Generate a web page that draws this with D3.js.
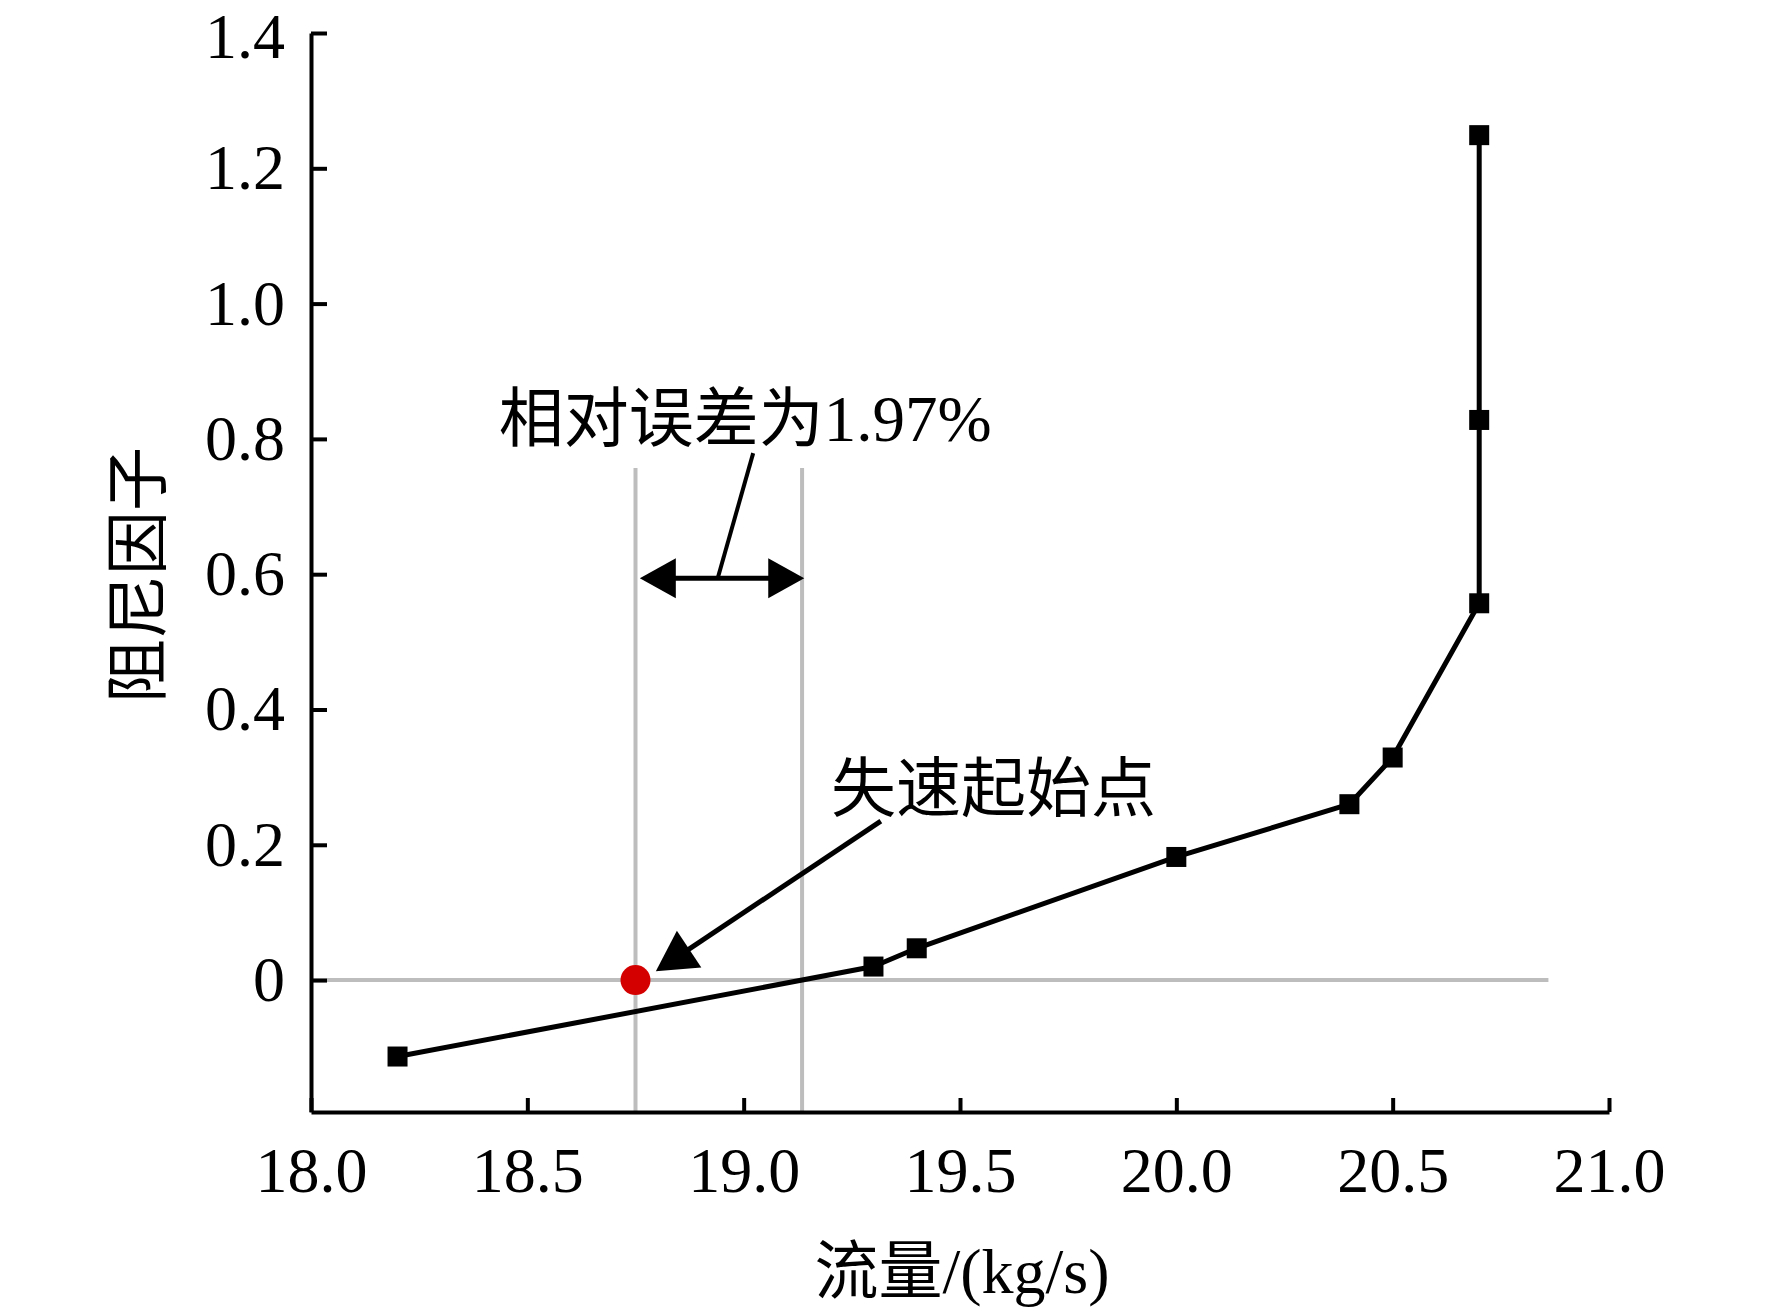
<!DOCTYPE html>
<html>
<head>
<meta charset="utf-8">
<script src="https://cdn.jsdelivr.net/npm/d3@7"></script>
<style>
  body { margin: 0; background: #fff; }
  svg { display: block; }
</style>
</head>
<body>
<svg id="chart"></svg>
<script>
// data
const flow = [18.2, 19.3, 19.4, 20.0, 20.4, 20.5, 20.7, 20.7, 20.7];
const damping = [-0.113, 0.02, 0.047, 0.182, 0.26, 0.329, 0.557, 0.828, 1.249];
const xTicks = [18.0, 18.5, 19.0, 19.5, 20.0, 20.5, 21.0];
const yTicks = [0, 0.2, 0.4, 0.6, 0.8, 1.0, 1.2, 1.4];

// stall onset point and the reference lines
const stallPoint = [18.75, 0];
const vLines = [18.75, 19.135];
const vLineTop = 0.757;
const hLineEnd = 20.86;

// annotations (data units)
const errText = "相对误差为1.97%";
const errTextPos = [18.434, 0.797];
const errArrow = { x0: 18.76, x1: 19.14, y: 0.594 };
const errLeader = [[18.94, 0.594], [19.022, 0.779]];
const stallText = "失速起始点";
const stallTextPos = [19.202, 0.25];
const stallArrow = [[19.317, 0.235], [18.797, 0.013]];

const width = 1772, height = 1311;
const font = "'Liberation Serif', 'Times New Roman', 'Noto Sans CJK SC', serif";

const svg = d3.select("#chart")
    .attr("width", width)
    .attr("height", height);

const x = d3.scaleLinear().domain([18, 21]).range([311, 1609]);
const y = d3.scaleLinear().domain([-0.195, 1.4]).range([1112, 33]);

// grey guide lines
svg.append("line")
    .attr("x1", x(18)).attr("x2", x(hLineEnd))
    .attr("y1", y(0)).attr("y2", y(0))
    .attr("stroke", "#bdbdbd").attr("stroke-width", 4);

svg.selectAll(".vline")
    .data(vLines)
    .join("line")
    .attr("class", "vline")
    .attr("x1", d => x(d)).attr("x2", d => x(d))
    .attr("y1", y(vLineTop)).attr("y2", y.range()[0])
    .attr("stroke", "#bdbdbd").attr("stroke-width", 4);

// axes
const yAxis = d3.axisLeft(y)
    .tickValues(yTicks)
    .tickSizeInner(-16)
    .tickSizeOuter(0)
    .tickPadding(26)
    .tickFormat(d => d === 0 ? "0" : d3.format(".1f")(d));

const gy = svg.append("g")
    .attr("transform", `translate(${x(18)},0)`)
    .call(yAxis);

const xAxis = d3.axisBottom(x)
    .tickValues(xTicks)
    .tickSizeInner(-14)
    .tickSizeOuter(0)
    .tickFormat(d3.format(".1f"));

const gx = svg.append("g")
    .attr("transform", `translate(0,${y.range()[0]})`)
    .call(xAxis);

[gx, gy].forEach(g => {
    g.select(".domain").attr("stroke", "#000").attr("stroke-width", 4);
    g.selectAll(".tick line").attr("stroke", "#000").attr("stroke-width", 4);
    g.selectAll(".tick text")
        .attr("fill", "#000")
        .style("font-family", font)
        .style("font-size", "64px");
});
gx.selectAll(".tick text").attr("dy", null).attr("y", 80);
// keep the top label inside the page
gy.selectAll(".tick text").filter(d => d === 1.4).attr("y", 4);

// series line
const pts = flow.map((f, i) => [f, damping[i]]);
svg.append("path")
    .datum(pts)
    .attr("fill", "none")
    .attr("stroke", "#000")
    .attr("stroke-width", 5)
    .attr("stroke-linejoin", "round")
    .attr("d", d3.line().x(d => x(d[0])).y(d => y(d[1])));

const ms = 20;
svg.selectAll(".marker")
    .data(pts)
    .join("rect")
    .attr("class", "marker")
    .attr("x", d => x(d[0]) - ms / 2)
    .attr("y", d => y(d[1]) - ms / 2)
    .attr("width", ms)
    .attr("height", ms)
    .attr("fill", "#000");

// red stall point
svg.append("circle")
    .attr("cx", x(stallPoint[0]))
    .attr("cy", y(stallPoint[1]))
    .attr("r", 15)
    .attr("fill", "#d40000");

// arrowhead helper: triangle with tip at (tx,ty) pointing away from (fx,fy)
function arrowHead(fx, fy, tx, ty, len, half) {
    const a = Math.atan2(ty - fy, tx - fx);
    const bx = tx - len * Math.cos(a), by = ty - len * Math.sin(a);
    const px = -Math.sin(a) * half, py = Math.cos(a) * half;
    return `M${tx},${ty}L${bx + px},${by + py}L${bx - px},${by - py}Z`;
}

// double-headed arrow for the relative error
const ax0 = x(errArrow.x0), ax1 = x(errArrow.x1), ay = y(errArrow.y);
svg.append("line")
    .attr("x1", ax0 + 30).attr("x2", ax1 - 30)
    .attr("y1", ay).attr("y2", ay)
    .attr("stroke", "#000").attr("stroke-width", 5);
svg.append("path").attr("d", arrowHead(ax1, ay, ax0, ay, 36, 20)).attr("fill", "#000");
svg.append("path").attr("d", arrowHead(ax0, ay, ax1, ay, 36, 20)).attr("fill", "#000");

svg.append("line")
    .attr("x1", x(errLeader[0][0])).attr("y1", y(errLeader[0][1]))
    .attr("x2", x(errLeader[1][0])).attr("y2", y(errLeader[1][1]))
    .attr("stroke", "#000").attr("stroke-width", 4);

// arrow pointing to the stall point
const s0x = x(stallArrow[0][0]), s0y = y(stallArrow[0][1]);
const s1x = x(stallArrow[1][0]), s1y = y(stallArrow[1][1]);
const sa = Math.atan2(s1y - s0y, s1x - s0x);
svg.append("line")
    .attr("x1", s0x).attr("y1", s0y)
    .attr("x2", s1x - 30 * Math.cos(sa)).attr("y2", s1y - 30 * Math.sin(sa))
    .attr("stroke", "#000").attr("stroke-width", 5);
svg.append("path").attr("d", arrowHead(s0x, s0y, s1x, s1y, 40, 22)).attr("fill", "#000");

// annotation texts
svg.append("text")
    .attr("x", x(errTextPos[0])).attr("y", y(errTextPos[1]))
    .style("font-family", font).style("font-size", "65px")
    .text(errText);

svg.append("text")
    .attr("x", x(stallTextPos[0])).attr("y", y(stallTextPos[1]))
    .style("font-family", font).style("font-size", "65px")
    .text(stallText);

// axis titles
svg.append("text")
    .attr("x", 962).attr("y", 1293)
    .attr("text-anchor", "middle")
    .style("font-family", font).style("font-size", "64px")
    .text("流量/(kg/s)");

svg.append("text")
    .attr("transform", "translate(160,575) rotate(-90)")
    .attr("text-anchor", "middle")
    .style("font-family", font).style("font-size", "64px")
    .text("阻尼因子");
</script>
</body>
</html>
